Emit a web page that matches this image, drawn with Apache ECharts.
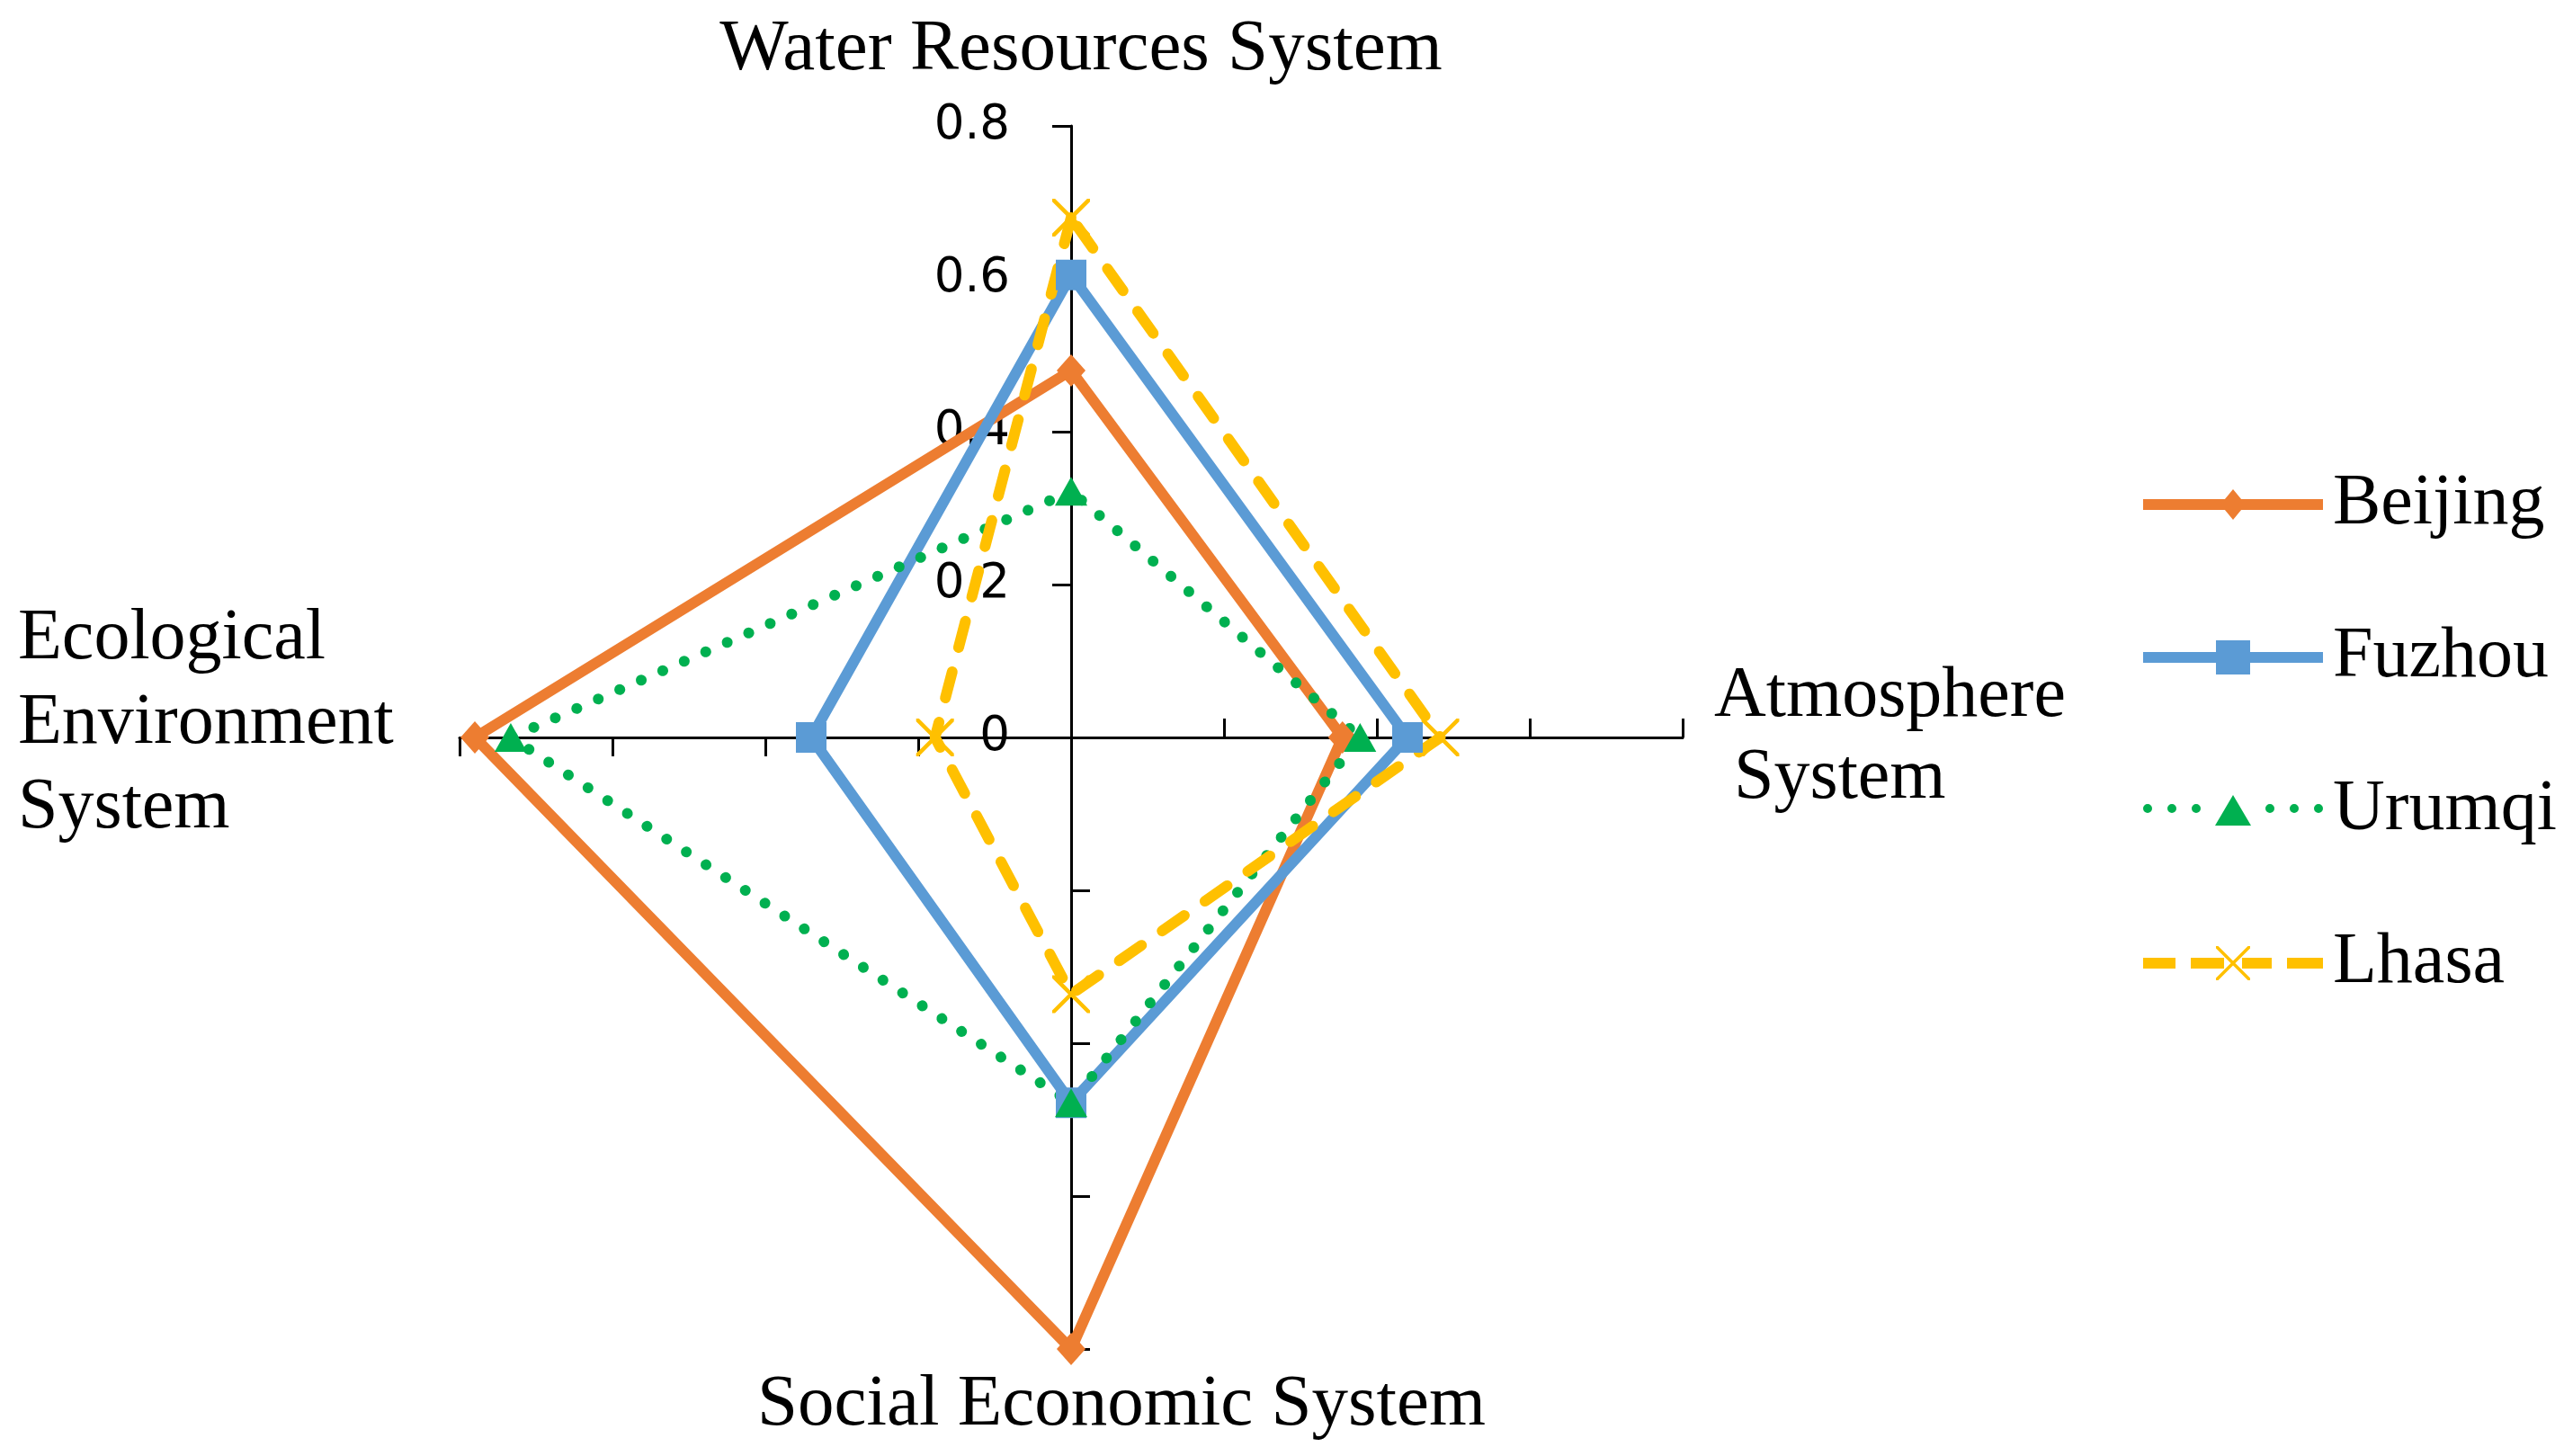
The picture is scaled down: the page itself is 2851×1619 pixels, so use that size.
<!DOCTYPE html>
<html>
<head>
<meta charset="utf-8">
<script src="https://cdn.jsdelivr.net/npm/echarts@6/dist/echarts.min.js"></script>
<style>
html, body { margin: 0; padding: 0; background: #fff; }
#main { width: 2851px; height: 1619px; }
</style>
</head>
<body>
<div id="main"></div>
<script>
// radar axes, counter-clockwise from the top
var categories = ['Water Resources System', 'Ecological Environment System', 'Social Economic System', 'Atmosphere System'];
var cities = ['Beijing', 'Fuzhou', 'Urumqi', 'Lhasa'];
var beijing = [0.48, 0.78, 0.80, 0.355];
var fuzhou = [0.605, 0.34, 0.478, 0.44];
var urumqi = [0.322, 0.733, 0.478, 0.378];
var lhasa = [0.68, 0.178, 0.336, 0.483];
var tickLabels = ['0', '0.2', '0.4', '0.6', '0.8'];

var colors = ['#ED7D31', '#5B9BD5', '#00B050', '#FFC000'];
var serif = '"Liberation Serif", "Times New Roman", serif';

var xMark = 'path://M0 0 L3 0 L40 37 L40 40 L37 40 L0 3 Z M40 0 L40 3 L3 40 L0 40 L0 37 L37 0 Z';

// legend icons, 200 x 38 box
function dot(x) {
    return 'M' + (x - 5) + ' 19 a5 5 0 1 0 10 0 a5 5 0 1 0 -10 0 Z ';
}
function dash(x0, x1) {
    return 'M' + x0 + ' 13 L' + x1 + ' 13 L' + x1 + ' 25 L' + x0 + ' 25 Z ';
}
var iconLine = dash(0, 200);
var legendIcons = [
    'path://' + iconLine + 'M100 2 L114 19 L100 36 L86 19 Z',
    'path://' + iconLine + 'M81 0 L119 0 L119 38 L81 38 Z',
    'path://' + dot(5) + dot(32) + dot(59) + dot(141) + dot(168) + dot(195) + 'M100 4 L120 38 L80 38 Z',
    'path://' + dash(0, 36) + dash(53, 90) + dash(110, 143) + dash(160, 200) +
        'M81 0 L83.5 0 L119 35.5 L119 38 L116.5 38 L81 2.5 Z M119 0 L119 2.5 L83.5 38 L81 38 L81 35.5 L116.5 0 Z'
];

var nameLabels = {
    'Water Resources System': '{t|Water Resources System}',
    'Ecological Environment System': '{l|Ecological}\n{l|Environment}\n{l|System}',
    'Social Economic System': '{b|Social Economic System}',
    'Atmosphere System': '{r|Atmosphere}\n{r2|System}'
};
var nameGaps = [44, 66, 22, 35];

var dom = document.getElementById('main');
var myChart = echarts.init(dom);

var indicator = categories.map(function (c, i) {
    var ind = { name: c, min: 0, max: 0.8, nameGap: nameGaps[i] };
    if (i === 0) {
        ind.axisLabel = {
            show: true,
            fontFamily: '"DejaVu Sans", sans-serif',
            fontSize: 53,
            color: '#000',
            margin: 68,
            formatter: function (v) {
                var k = Math.round(v / 0.2);
                return tickLabels[k] != null ? tickLabels[k] : '';
            }
        };
    }
    if (i === 1) {
        ind.nameTextStyle = { padding: [0, 0, 30, 0] };
    }
    return ind;
});

var seriesData = [beijing, fuzhou, urumqi, lhasa];
var symbols = ['diamond', 'rect', 'triangle', xMark];
var symbolSizes = [[32, 36], 34, [36, 32], 42];
var lineTypes = ['solid', 'solid', [0.1, 26], [30, 28]];

var option = {
    backgroundColor: '#ffffff',
    animation: false,
    legend: {
        orient: 'vertical',
        left: 2378,
        top: 516,
        itemWidth: 200,
        itemHeight: 38,
        itemGap: 90,
        textStyle: { fontFamily: serif, fontSize: 80, color: '#000', padding: [0, 0, 0, 6] },
        data: cities.map(function (c, i) {
            return { name: c, icon: legendIcons[i], itemStyle: { color: colors[i], borderWidth: 0 } };
        })
    },
    radar: {
        center: [1191, 820],
        radius: 680,
        startAngle: 90,
        splitNumber: 4,
        shape: 'polygon',
        indicator: indicator,
        axisName: {
            color: '#000',
            fontFamily: serif,
            fontSize: 80,
            formatter: function (name) { return nameLabels[name] || name; },
            rich: {
                t: { fontFamily: serif, fontSize: 81, color: '#000', padding: [0, 0, 0, 22] },
                l: { fontFamily: serif, fontSize: 80, color: '#000', width: 425, align: 'left', lineHeight: 94 },
                b: { fontFamily: serif, fontSize: 81, color: '#000', padding: [0, 0, 0, 112] },
                r: { fontFamily: serif, fontSize: 80, color: '#000', lineHeight: 91, width: 400, align: 'left' },
                r2: { fontFamily: serif, fontSize: 80, color: '#000', lineHeight: 91, width: 400, align: 'left', padding: [0, 0, 0, 22] }
            }
        },
        axisLine: { show: true, lineStyle: { color: '#000', width: 3 } },
        axisTick: { show: true, inside: true, length: 21, lineStyle: { color: '#000', width: 3 } },
        axisLabel: { show: false },
        splitLine: { show: false },
        splitArea: { show: false }
    },
    series: cities.map(function (c, i) {
        return {
            name: c,
            type: 'radar',
            symbol: symbols[i],
            symbolSize: symbolSizes[i],
            itemStyle: { color: colors[i], borderWidth: 0 },
            lineStyle: { color: colors[i], width: 12, type: lineTypes[i], cap: 'round', join: 'round' },
            data: [{ name: c, value: seriesData[i] }]
        };
    })
};

if (option && typeof option === 'object') {
    myChart.setOption(option, true);
}
</script>
</body>
</html>
